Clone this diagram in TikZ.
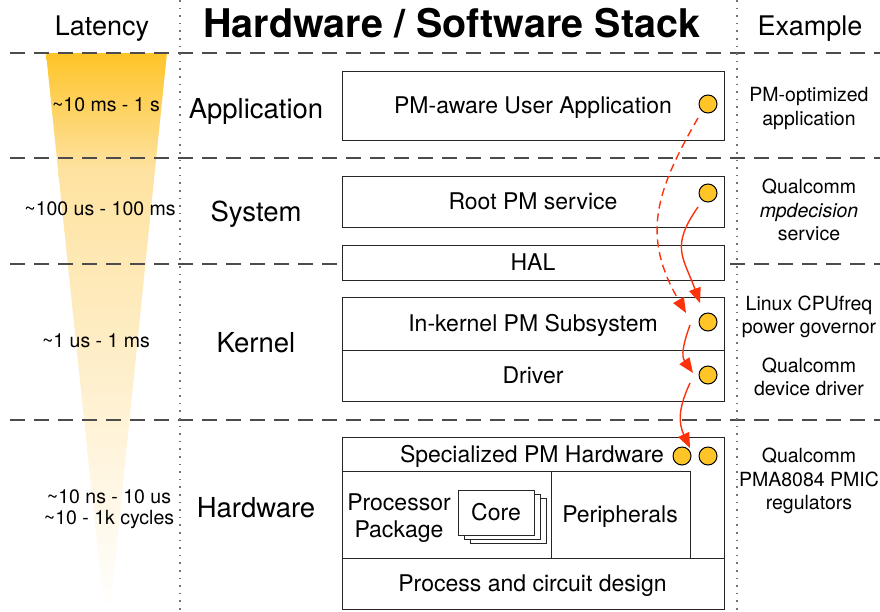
\documentclass[tikz,border=0pt]{standalone}
\usepackage{fontspec}
\setmainfont{TeX Gyre Heros}
\usetikzlibrary{arrows.meta}
\definecolor{pmyellow}{RGB}{254,196,40}
\definecolor{funnelmid}{RGB}{254,226,160}
\definecolor{funnellow}{RGB}{255,240,208}
\definecolor{pmred}{RGB}{252,50,12}

\begin{document}
\begin{tikzpicture}[x=1pt,y=1pt,
    layerbox/.style={draw=black!85,fill=white,line width=0.9pt,minimum width=382pt,
      inner sep=0pt,font=\fontsize{23}{27}\selectfont,text height=16.5pt,text depth=0pt},
    boxtext/.style={inner sep=0pt,font=\fontsize{23}{27}\selectfont},
    corebox/.style={draw=black!85,fill=white,line width=0.8pt,minimum width=76pt,
      minimum height=45pt,inner sep=0pt,font=\fontsize{23}{27}\selectfont,
      text height=16.5pt,text depth=0pt},
    layername/.style={inner sep=0pt,font=\fontsize{27.5}{30}\selectfont},
    latency/.style={inner sep=0pt,align=center,font=\fontsize{19.5}{20.5}\selectfont},
    example/.style={inner sep=0pt,align=center,font=\fontsize{19.5}{23.5}\selectfont},
    pmdot/.style={circle,draw=black,line width=1pt,fill=pmyellow,minimum size=18pt,inner sep=0pt},
    pmarrow/.style={pmred,line width=1.4pt,-{Triangle[length=15pt,width=12pt]}},
    boxline/.style={draw=black!85,line width=0.9pt}]
  \useasboundingbox (0,0) rectangle (880,-611);

  % latency funnel
  \shade[top color=pmyellow,bottom color=funnelmid] (46,-53) -- (167,-53) -- (155,-170) -- (58,-170) -- cycle;
  \shade[top color=funnelmid,middle color=funnellow,bottom color=white] (58,-170) -- (155,-170) -- (110,-611) -- (104,-611) -- cycle;

  % separators
  \foreach \y in {53,158,264,420}
    \draw[black!70,line width=1.1pt,dash pattern=on 15pt off 9pt] (10,-\y) -- (880,-\y);
  \foreach \x in {180,737}
    \draw[black!55,line width=1.6pt,dash pattern=on 1.6pt off 6pt] (\x,0) -- (\x,-611);

  % headings
  \node[inner sep=0pt,font=\fontsize{27}{30}\selectfont] (latencyhead) at (102,-29) {Latency};
  \node[inner sep=0pt,font=\fontsize{39.5}{42}\bfseries] (stackhead) at (452,-23) {Hardware / Software Stack};
  \node[inner sep=0pt,font=\fontsize{27}{30}\selectfont] (examplehead) at (810,-29) {Example};

  % latency ranges
  \node[latency] (latapp) at (106,-105) {\textasciitilde10 ms - 1 s};
  \node[latency] (latsys) at (100,-209) {\textasciitilde100 us - 100 ms};
  \node[latency] (latkern) at (96,-341) {\textasciitilde1 us - 1 ms};
  \node[latency] (lathw) at (109,-509) {\textasciitilde10 ns - 10 us\\\textasciitilde10 - 1k cycles};

  % layer names
  \node[layername] (appname) at (256,-111) {Application};
  \node[layername] (sysname) at (256,-214) {System};
  \node[layername] (kernname) at (256,-343) {Kernel};
  \node[layername] (hwname) at (256,-508) {Hardware};

  % stack boxes
  \node[layerbox,minimum height=69pt] (appbox) at (533,-105.5) {PM-aware User Application};
  \node[layerbox,minimum height=51pt] (rootbox) at (533,-201.5) {Root PM service};
  \node[layerbox,minimum height=35pt] (halbox) at (533,-262.5) {HAL};
  \node[layerbox,minimum height=53pt] (kernbox) at (533,-323.5) {In-kernel PM Subsystem};
  \node[layerbox,minimum height=51pt] (drvbox) at (533,-375.5) {Driver};

  % hardware block
  \node[layerbox,minimum height=172pt] (hwbox) at (533,-523) {};
  \draw[boxline] (342,-471) -- (690,-471) -- (690,-558);
  \draw[boxline] (551,-471) -- (551,-558);
  \draw[boxline] (342,-558) -- (724,-558);
  \node[boxtext,text height=16.5pt,text depth=0pt] (spechw) at (532,-454.5) {Specialized PM Hardware};
  \node[boxtext,align=center] (procpkg) at (399,-518) {Processor\\Package};
  \node[corebox] (core3) at (508,-520.5) {};
  \node[corebox] (core2) at (502,-516.5) {};
  \node[corebox] (core) at (496,-512.5) {Core};
  \node[boxtext,text height=16.5pt,text depth=0pt] (periph) at (620,-514) {Peripherals};
  \node[boxtext,text height=16.5pt,text depth=0pt] (procdesign) at (532.5,-583) {Process and circuit design};

  % examples
  \node[example] (exapp) at (809,-108.5) {PM-optimized\\application};
  \node[example] (exsys) at (809,-210) {Qualcomm\\\textit{mpdecision}\\service};
  \node[example] (excpufreq) at (809,-317) {Linux CPUfreq\\power governor};
  \node[example] (exdrv) at (809,-377) {Qualcomm\\device driver};
  \node[example] (exhw) at (809,-481) {Qualcomm\\PMA8084 PMIC\\regulators};

  % control points
  \node[pmdot] (appdot) at (708,-104) {};
  \node[pmdot] (rootdot) at (708,-193) {};
  \node[pmdot] (kerndot) at (708,-322) {};
  \node[pmdot] (drvdot) at (708,-375) {};
  \node[pmdot] (hwdotl) at (682,-456) {};
  \node[pmdot] (hwdot) at (708,-456) {};

  % power management requests
  \draw[pmarrow,dash pattern=on 8pt off 5pt] ([shift={(-10pt,-14pt)}]appdot.center)
    to[out=240,in=120,looseness=1.15] ([shift={(-22pt,9pt)}]kerndot.center);
  \draw[pmarrow] ([shift={(-10pt,-14pt)}]rootdot.center)
    to[out=235,in=110,looseness=1.3] ([shift={(-8pt,19pt)}]kerndot.center);
  \draw[pmarrow] ([shift={(-18pt,-3pt)}]kerndot.center)
    to[out=250,in=125,looseness=1.1] ([shift={(-15pt,2pt)}]drvdot.center);
  \draw[pmarrow] ([shift={(-18pt,-8pt)}]drvdot.center)
    to[out=245,in=115,looseness=1.1] ([shift={(-18pt,8pt)}]hwdot.center);
\end{tikzpicture}
\end{document}
